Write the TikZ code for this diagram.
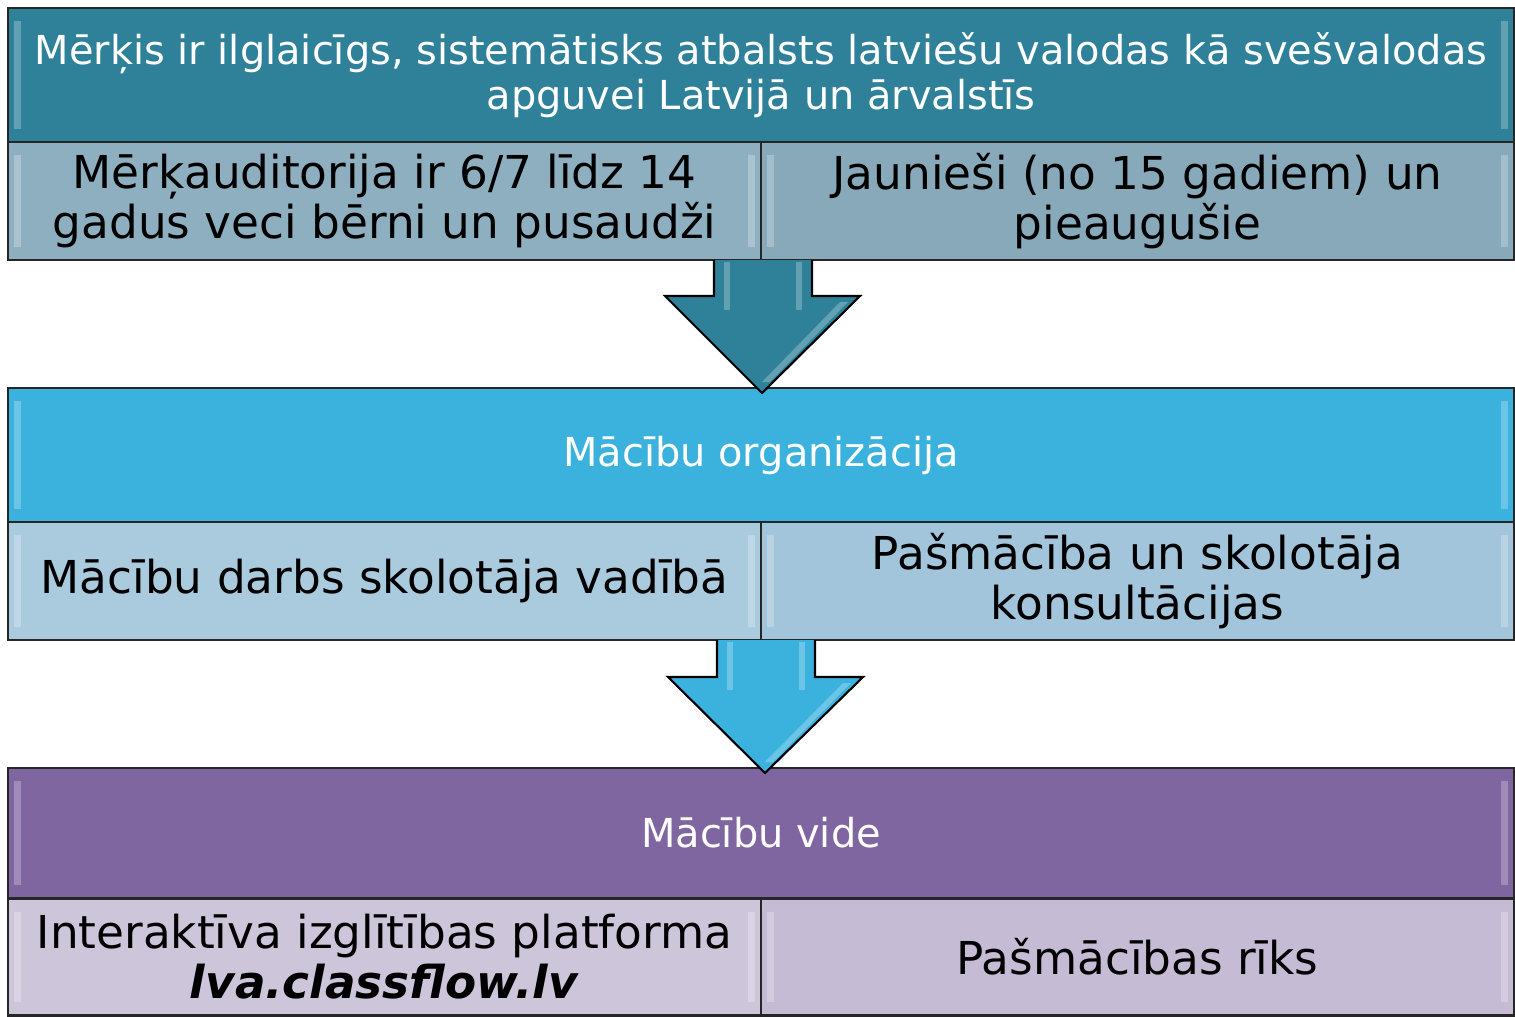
\documentclass[tikz,border=0pt]{standalone}
\usepackage{fontspec}
\setmainfont{DejaVu Sans}
\definecolor{tealdark}{HTML}{2E8199}
\definecolor{tealrowL}{HTML}{8EAFC0}
\definecolor{tealrowR}{HTML}{87A9BA}
\definecolor{skyblue}{HTML}{3BB2DE}
\definecolor{skyrowL}{HTML}{AACADE}
\definecolor{skyrowR}{HTML}{A3C5DC}
\definecolor{violet}{HTML}{8066A0}
\definecolor{violetrowL}{HTML}{CDC5DA}
\definecolor{violetrowR}{HTML}{C5BBD4}
\tikzset{
  headbox/.style={draw=black!85, line width=1.2pt, inner sep=0pt, align=center,
    minimum width=30.12cm, text=white, font=\fontsize{22.7}{25.5}\selectfont},
  subbox/.style={draw=black!85, line width=1.2pt, inner sep=0pt, align=center,
    minimum width=15.06cm, text=black, font=\fontsize{25.8}{28.4}\selectfont},
  downarrow/.style={draw=black, line width=1.2pt, line join=miter},
  gloss/.style={white, opacity=0.25}
}
\begin{document}
\begin{tikzpicture}[x=0.02cm, y=-0.02cm]
  \useasboundingbox (0,0) rectangle (1515,1017);

  % goal and target groups
  \node[headbox, fill=tealdark, minimum height=2.68cm] (goal) at (761,75)
    {Mērķis ir ilglaicīgs, sistemātisks atbalsts latviešu valodas kā svešvalodas\\apguvei Latvijā un ārvalstīs};
  \node[subbox, fill=tealrowL, minimum height=2.36cm] (kids) at (384.5,201)
    {Mērķauditorija ir 6/7 līdz 14\\gadus veci bērni un pusaudži};
  \node[subbox, fill=tealrowR, minimum height=2.36cm] (adults) at (1137.5,201)
    {Jaunieši (no 15 gadiem) un\\pieaugušie};

  % organisation
  \node[headbox, fill=skyblue, minimum height=2.68cm] (org) at (761,455)
    {Mācību organizācija};
  \node[subbox, fill=skyrowL, minimum height=2.36cm] (teacher) at (384.5,581)
    {Mācību darbs skolotāja vadībā};
  \node[subbox, fill=skyrowR, minimum height=2.36cm] (selfstudy) at (1137.5,581)
    {Pašmācība un skolotāja\\konsultācijas};

  % environment
  \node[headbox, fill=violet, minimum height=2.6cm] (env) at (761,833)
    {Mācību vide};
  \node[subbox, fill=violetrowL, minimum height=2.34cm] (platform) at (384.5,957)
    {Interaktīva izglītības platforma\\\textbf{\textit{lva.classflow.lv}}};
  \node[subbox, fill=violetrowR, minimum height=2.34cm] (tool) at (1137.5,957)
    {Pašmācības rīks};

  % glossy edges
  \foreach \n in {goal,kids,adults,org,teacher,selfstudy,env,platform,tool}{
    \fill[gloss] ([xshift=4pt,yshift=-8pt]\n.north west) rectangle ([xshift=8pt,yshift=8pt]\n.south west);
    \fill[gloss] ([xshift=-8pt,yshift=-8pt]\n.north east) rectangle ([xshift=-4pt,yshift=8pt]\n.south east);
  }

  % arrows
  \coordinate (tipA) at (762,393);
  \coordinate (tipB) at (765,773);
  \draw[downarrow, fill=tealdark] (714,260) -- (714,296) -- (665,296) -- (tipA)
    -- (860,296) -- (812,296) -- (812,260);
  \fill[gloss] (724,262) rectangle (730,310);
  \fill[gloss] (796,262) rectangle (802,310);
  \fill[gloss] (840,302) -- (848,302) -- (770,382) -- (762,382) -- cycle;

  \draw[downarrow, fill=skyblue] (717,640) -- (717,677) -- (668,677) -- (tipB)
    -- (863,677) -- (815,677) -- (815,640);
  \fill[gloss] (727,642) rectangle (733,690);
  \fill[gloss] (799,642) rectangle (805,690);
  \fill[gloss] (843,683) -- (851,683) -- (773,762) -- (765,762) -- cycle;
\end{tikzpicture}
\end{document}
